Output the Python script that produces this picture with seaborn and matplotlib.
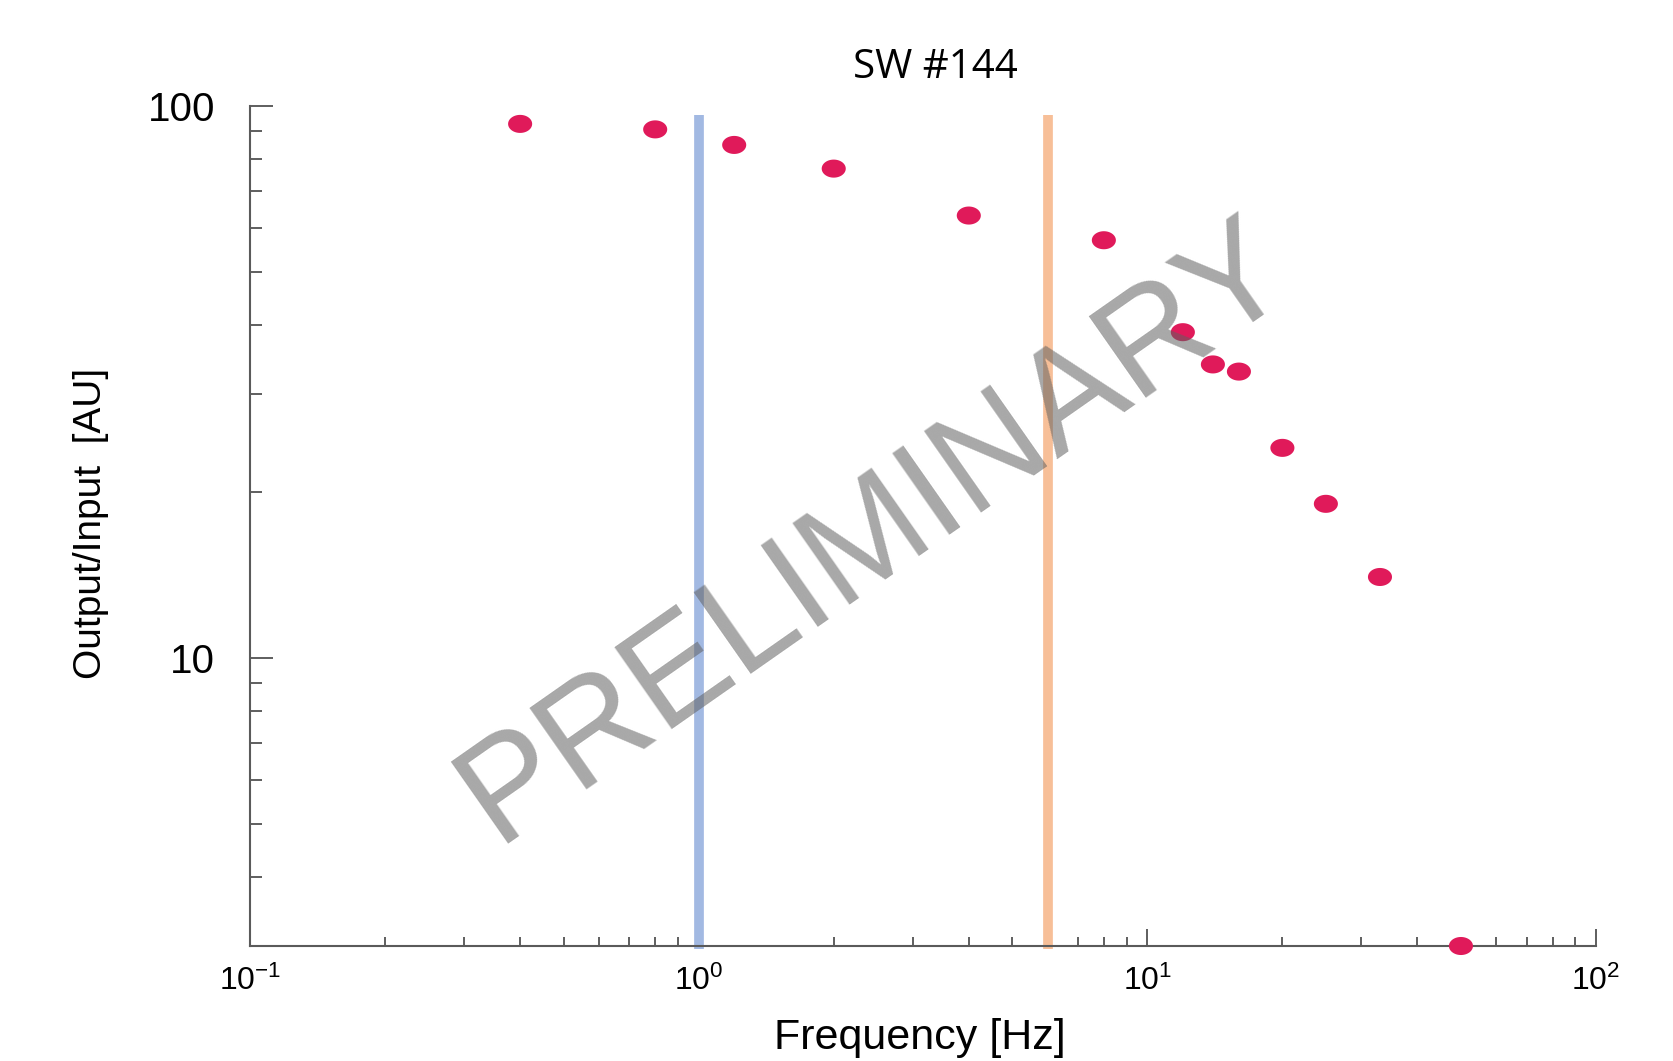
import numpy as np
import pandas as pd
import matplotlib
matplotlib.use("Agg")
import matplotlib.pyplot as plt
from matplotlib.path import Path
from matplotlib.markers import MarkerStyle
from matplotlib.ticker import NullFormatter
import seaborn as sns

# ---- data ----
freq_hz = [0.4, 0.8, 1.2, 2.0, 4.0, 8.0, 12.0, 14.0, 16.0, 20.0, 25.0, 33.0, 50.0]
ratio_au = [92.8, 90.7, 85.0, 77.0, 63.3, 57.1, 38.9, 34.0, 33.0, 24.0, 19.0, 14.0, 3.0]
vline_freqs = [1.0, 6.0]
vline_colors = ["#A2B9E2", "#F7BF98"]
xticks = [0.1, 1, 10, 100]
xticklabels = [r"$\mathdefault{10^{-1}}$", r"$\mathdefault{10^{0}}$",
               r"$\mathdefault{10^{1}}$", r"$\mathdefault{10^{2}}$"]
yticks = [10, 100]
yticklabels = ["10", "100"]
yminor = [3, 4, 5, 6, 7, 8, 9, 20, 30, 40, 50, 60, 70, 80, 90]
xminor = [0.2, 0.3, 0.4, 0.5, 0.6, 0.7, 0.8, 0.9,
          2, 3, 4, 5, 6, 7, 8, 9,
          20, 30, 40, 50, 60, 70, 80, 90]
title = "SW #144"
xlabel = "Frequency [Hz]"
ylabel = "Output/Input  [AU]"
watermark = "PRELIMINARY"

df = pd.DataFrame({"freq": freq_hz, "ratio": ratio_au})

sns.set_style("white")
plt.rcParams["font.family"] = ["Liberation Sans", "DejaVu Sans"]
plt.rcParams["axes.unicode_minus"] = False
plt.rcParams["mathtext.default"] = "regular"

fig = plt.figure(figsize=(16.73, 10.61), dpi=100)
ax = fig.add_axes([250 / 1673, 115 / 1061, 1346 / 1673, 840 / 1061])

# vertical bands
for f, c in zip(vline_freqs, vline_colors):
    ax.axvline(f, ymin=-0.004, ymax=0.989, color=c, lw=7, clip_on=False,
               zorder=1, solid_capstyle="butt")

# elliptical marker
t = np.linspace(0, 2 * np.pi, 120)
ell = MarkerStyle(Path(np.column_stack([np.cos(t), 0.75 * np.sin(t)]), closed=True))

sns.scatterplot(data=df, x="freq", y="ratio", ax=ax, marker=ell, s=300,
                color="#E01A5A", edgecolor="none", linewidth=0,
                clip_on=False, zorder=4)

ax.set_xscale("log")
ax.set_yscale("log")
ax.set_xlim(0.1, 100)
ax.set_ylim(3, 100)

ax.set_xticks(xticks, labels=xticklabels)
ax.set_xticks(xminor, minor=True)
ax.set_yticks(yticks, labels=yticklabels)
ax.set_yticks(yminor, minor=True)
ax.xaxis.set_minor_formatter(NullFormatter())
ax.yaxis.set_minor_formatter(NullFormatter())

for s in ["top", "right"]:
    ax.spines[s].set_visible(False)
for s in ["left", "bottom"]:
    ax.spines[s].set_color("#5a5a5a")
    ax.spines[s].set_linewidth(1.5)

ax.tick_params(axis="x", which="both", bottom=True, top=False)
ax.tick_params(axis="y", which="both", left=True, right=False)
ax.tick_params(axis="x", which="major", direction="in", length=12.2, width=1.1,
               color="#333333", labelsize=23, pad=14, labelcolor="black")
ax.tick_params(axis="x", which="minor", direction="in", length=6.5, width=1.1,
               color="#333333")
ax.tick_params(axis="y", which="major", direction="in", length=16.5, width=1.1,
               color="#333333", labelsize=29, pad=25, labelcolor="black")
ax.tick_params(axis="y", which="minor", direction="in", length=8.6, width=1.1,
               color="#333333")

ax.set_xlabel(xlabel, fontsize=31, color="black")
ax.xaxis.label.set_verticalalignment("baseline")
ax.xaxis.set_label_coords((920 - 250) / 1346, (946 - 1049) / 840)
ax.set_ylabel(ylabel, fontsize=28, color="black")
ax.yaxis.label.set_verticalalignment("center")
ax.yaxis.set_label_coords((91 - 250) / 1346, (946 - 523) / 840)

fig.text(935 / 1673, (1061 - 78) / 1061, title, ha="center", va="baseline",
         fontsize=29, family=["Open Sans", "DejaVu Sans"], color="black")

fig.text(875 / 1673, (1061 - 533) / 1061, watermark, ha="center", va="center",
         rotation=35.0, rotation_mode="anchor", fontsize=104, color="#606060",
         alpha=0.55, zorder=10)

fig.savefig("out.png", dpi=100, facecolor="white")
